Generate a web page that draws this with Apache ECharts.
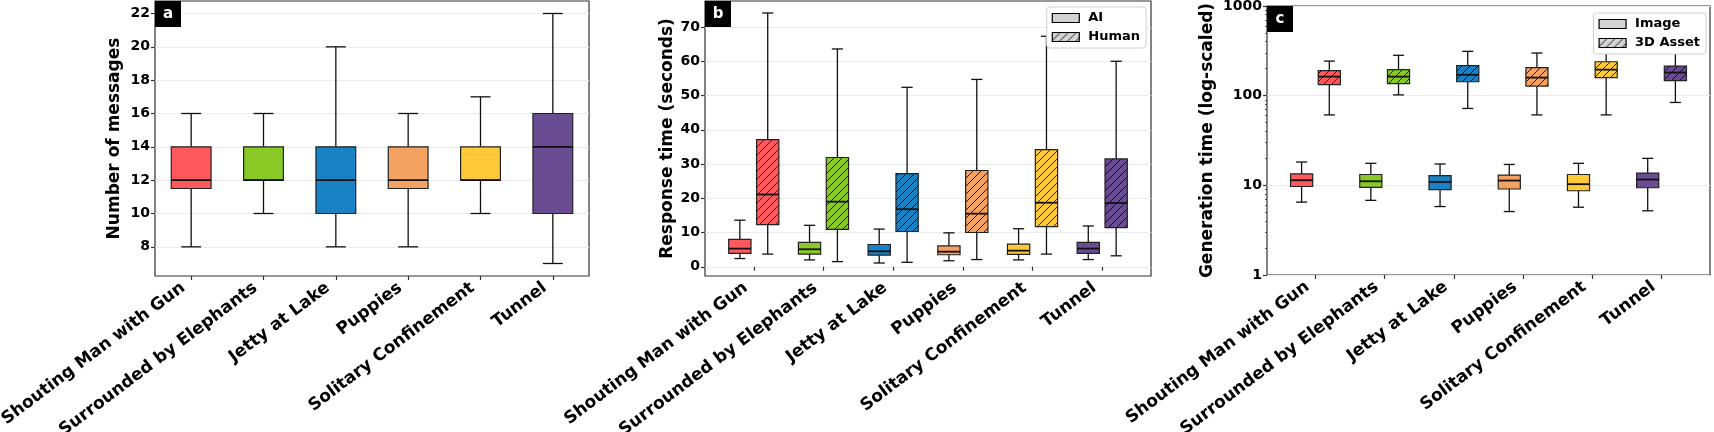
<!DOCTYPE html>
<html>
<head>
<meta charset="utf-8">
<script src="https://cdn.jsdelivr.net/npm/echarts@6/dist/echarts.min.js"></script>
<style>
html, body { margin: 0; padding: 0; background: #fff; }
#chart { width: 1714px; height: 432px; }
</style>
</head>
<body>
<div id="chart"></div>
<script>
const scenes = ['Shouting Man with Gun', 'Surrounded by Elephants', 'Jetty at Lake', 'Puppies', 'Solitary Confinement', 'Tunnel'];
const colors = ['#ff595e', '#8ac926', '#1982c4', '#f4a261', '#ffca3a', '#6a4c93'];

// each row: [min, q1, median, q3, max]
const messages = [
  [8, 11.5, 12, 14, 16],
  [10, 12, 12, 14, 16],
  [8, 10, 12, 14, 20],
  [8, 11.5, 12, 14, 16],
  [10, 12, 12, 14, 17],
  [7, 10, 14, 16, 22]
];
const aiResponse = [
  [2.4, 3.9, 5.3, 8.0, 13.6],
  [2.0, 3.7, 5.1, 7.1, 12.1],
  [1.1, 3.4, 4.5, 6.5, 11.0],
  [1.75, 3.5, 4.4, 6.1, 9.9],
  [2.0, 3.6, 4.7, 6.6, 11.1],
  [2.1, 3.9, 5.3, 7.1, 11.9]
];
const humanResponse = [
  [3.7, 12.3, 21.1, 37.1, 74.1],
  [1.5, 10.9, 19.0, 31.9, 63.6],
  [1.3, 10.3, 16.8, 27.2, 52.4],
  [2.1, 10.0, 15.5, 28.1, 54.7],
  [3.7, 11.7, 18.7, 34.2, 67.3],
  [3.2, 11.4, 18.6, 31.5, 60.0]
];
const imageGen = [
  [6.5, 9.7, 11.4, 13.4, 18.2],
  [6.8, 9.5, 11.1, 13.2, 17.6],
  [5.8, 8.95, 10.9, 12.8, 17.3],
  [5.1, 9.1, 11.3, 13.0, 17.1],
  [5.7, 8.7, 10.3, 13.2, 17.6],
  [5.2, 9.4, 11.6, 13.7, 20.0]
];
const assetGen = [
  [61, 133, 163, 190, 243],
  [102, 136, 163, 195, 282],
  [72, 143, 171, 216, 312],
  [61, 128, 159, 205, 299],
  [61, 159, 195, 239, 320],
  [84, 147, 181, 214, 320]
];

const catTicks = [1, 2, 3, 4, 5, 6];
const msgTicks = [8, 10, 12, 14, 16, 18, 20, 22];
const respTicks = [0, 10, 20, 30, 40, 50, 60, 70];
const genTicks = [1, 10, 100, 1000];
const genMinorTicks = [2, 3, 4, 5, 6, 7, 8, 9, 20, 30, 40, 50, 60, 70, 80, 90, 200, 300, 400, 500, 600, 700, 800, 900];

const FONT = 'DejaVu Sans';

function hatch(color) {
  const c = document.createElement('canvas');
  c.width = 8; c.height = 8;
  const g = c.getContext('2d');
  g.fillStyle = color;
  g.fillRect(0, 0, 8, 8);
  g.strokeStyle = 'rgba(0,0,0,0.85)';
  g.lineWidth = 1;
  g.beginPath();
  g.moveTo(0, 8); g.lineTo(8, 0);
  g.moveTo(-1, 1); g.lineTo(1, -1);
  g.moveTo(7, 9); g.lineTo(9, 7);
  g.stroke();
  return { image: c, repeat: 'repeat' };
}
const hatched = colors.map(hatch);

function boxRenderer(offset, width, useHatch) {
  return function (params, api) {
    const pos = api.value(0) + offset;
    const left = api.coord([pos - width / 2, api.value(3)])[0];
    const right = api.coord([pos + width / 2, api.value(3)])[0];
    const y = (i) => api.coord([pos, api.value(i)])[1];
    const xc = (left + right) / 2;
    const cw = (right - left) / 4;
    const yMin = y(1), yQ1 = y(2), yMed = y(3), yQ3 = y(4), yMax = y(5);
    const i = params.dataIndex;
    const line = (x1, y1, x2, y2, w) => ({
      type: 'line', shape: { x1, y1, x2, y2 }, style: { stroke: '#111', lineWidth: w }
    });
    return {
      type: 'group',
      children: [
        line(xc, yMin, xc, yQ1, 1.3),
        line(xc, yQ3, xc, yMax, 1.3),
        line(xc - cw, yMin, xc + cw, yMin, 1.3),
        line(xc - cw, yMax, xc + cw, yMax, 1.3),
        {
          type: 'rect',
          shape: { x: left, y: yQ3, width: right - left, height: yQ1 - yQ3 },
          style: { fill: useHatch ? hatched[i] : colors[i], stroke: '#222', lineWidth: 1.2 }
        },
        line(left, yMed, right, yMed, 1.8)
      ]
    };
  };
}

function toData(rows) {
  return rows.map((r, i) => [i + 1].concat(r));
}

function xAxis(gridIndex, min, max) {
  return {
    type: 'value', gridIndex, min, max,
    axisLine: { show: false },
    splitLine: { show: false },
    axisTick: { show: true, customValues: catTicks, length: 4, lineStyle: { color: '#333', width: 1.2 } },
    axisLabel: {
      customValues: catTicks, rotate: 37, margin: 4, padding: [6, 10, 0, 0],
      formatter: (v) => scenes[v - 1],
      fontFamily: FONT, fontSize: 17, fontWeight: 'bold', color: '#000'
    }
  };
}

function yAxis(gridIndex, min, max, ticks, name, gap) {
  return {
    type: 'value', gridIndex, min, max,
    name, nameLocation: 'middle', nameGap: gap,
    nameTextStyle: { fontFamily: FONT, fontSize: 17, fontWeight: 'bold', color: '#000' },
    axisLine: { show: false },
    axisTick: { show: true, customValues: ticks, length: 4, lineStyle: { color: '#333', width: 1.2 } },
    axisLabel: { customValues: ticks, margin: 5, fontFamily: FONT, fontSize: 14, fontWeight: 'bold', color: '#000' },
    splitLine: { show: true, lineStyle: { color: '#ebebeb', width: 1 } }
  };
}

const gridBase = { show: true, borderColor: '#333', borderWidth: 1.2, backgroundColor: 'transparent', containLabel: false, outerBoundsMode: 'none' };

function legend(right, top, names) {
  return {
    orient: 'vertical', right, top, align: 'left',
    selectedMode: false, icon: 'rect',
    itemWidth: 27, itemHeight: 9, itemGap: 5,
    padding: [4, 6, 4, 5],
    backgroundColor: '#fff', borderColor: '#d0d0d0', borderWidth: 1, borderRadius: 3,
    textStyle: { fontFamily: FONT, fontSize: 13, fontWeight: 'bold', color: '#000', lineHeight: 14, padding: [0, 0, 0, 4] },
    data: [
      { name: names[0], itemStyle: { color: '#d3d3d3', borderColor: '#000', borderWidth: 1.2 } },
      { name: names[1], itemStyle: { color: hatch('#d3d3d3'), borderColor: '#000', borderWidth: 1.2 } }
    ]
  };
}

function panelLabel(x, y, letter) {
  return [
    { type: 'rect', shape: { x, y, width: 26, height: 26 }, style: { fill: '#000' }, z: 100 },
    { type: 'text', x: x + 13, y: y + 13, z: 101,
      style: { text: letter, fill: '#fff', font: 'bold 15px ' + FONT, align: 'center', verticalAlign: 'middle' } }
  ];
}

const chart = echarts.init(document.getElementById('chart'), null, { renderer: 'canvas' });

const option = {
  animation: false,
  backgroundColor: '#fff',
  grid: [
    Object.assign({ left: 155, top: 1, width: 434, height: 275 }, gridBase),
    Object.assign({ left: 705, top: 1, width: 446, height: 275 }, gridBase),
    Object.assign({ left: 1267, top: 6, width: 443, height: 269 }, gridBase)
  ],
  xAxis: [
    xAxis(0, 0.5, 6.5),
    xAxis(1, 0.3, 6.7),
    xAxis(2, 0.3, 6.7)
  ],
  yAxis: [
    yAxis(0, 6.25, 22.75, msgTicks, 'Number of messages', 32),
    yAxis(1, -2.7, 77.6, respTicks, 'Response time (seconds)', 29),
    {
      type: 'log', logBase: 10, gridIndex: 2, min: 1, max: 1000, position: 'left',
      name: 'Generation time (log-scaled)', nameLocation: 'middle', nameGap: 51,
      nameTextStyle: { fontFamily: FONT, fontSize: 17, fontWeight: 'bold', color: '#000' },
      axisLine: { show: false },
      axisTick: { show: true, customValues: genTicks, length: 4, lineStyle: { color: '#333', width: 1.2 } },
      axisLabel: { customValues: genTicks, margin: 5, formatter: (v) => String(v), fontFamily: FONT, fontSize: 14, fontWeight: 'bold', color: '#000' },
      splitLine: { show: true, lineStyle: { color: '#ebebeb', width: 1 } }
    },
    {
      type: 'log', logBase: 10, gridIndex: 2, min: 1, max: 1000, position: 'left', offset: 0,
      axisLine: { show: false },
      axisTick: { show: true, customValues: genMinorTicks, length: 2, lineStyle: { color: '#333', width: 0.8 } },
      axisLabel: { show: false },
      splitLine: { show: false }
    }
  ],
  legend: [
    legend(568, 7, ['AI', 'Human']),
    legend(8, 13, ['Image', '3D Asset'])
  ],
  series: [
    { name: 'messages', type: 'custom', xAxisIndex: 0, yAxisIndex: 0,
      renderItem: boxRenderer(0, 0.55, false), encode: { x: 0, y: [1, 2, 3, 4, 5] }, data: toData(messages) },
    { name: 'AI', type: 'custom', xAxisIndex: 1, yAxisIndex: 1,
      renderItem: boxRenderer(-0.2, 0.32, false), encode: { x: 0, y: [1, 2, 3, 4, 5] }, data: toData(aiResponse) },
    { name: 'Human', type: 'custom', xAxisIndex: 1, yAxisIndex: 1,
      renderItem: boxRenderer(0.2, 0.32, true), encode: { x: 0, y: [1, 2, 3, 4, 5] }, data: toData(humanResponse) },
    { name: 'Image', type: 'custom', xAxisIndex: 2, yAxisIndex: 2,
      renderItem: boxRenderer(-0.2, 0.32, false), encode: { x: 0, y: [1, 2, 3, 4, 5] }, data: toData(imageGen) },
    { name: '3D Asset', type: 'custom', xAxisIndex: 2, yAxisIndex: 2,
      renderItem: boxRenderer(0.2, 0.32, true), encode: { x: 0, y: [1, 2, 3, 4, 5] }, data: toData(assetGen) }
  ],
  graphic: [].concat(panelLabel(155, 1, 'a'), panelLabel(705, 1, 'b'), panelLabel(1267, 6, 'c'))
};

chart.setOption(option);
</script>
</body>
</html>
